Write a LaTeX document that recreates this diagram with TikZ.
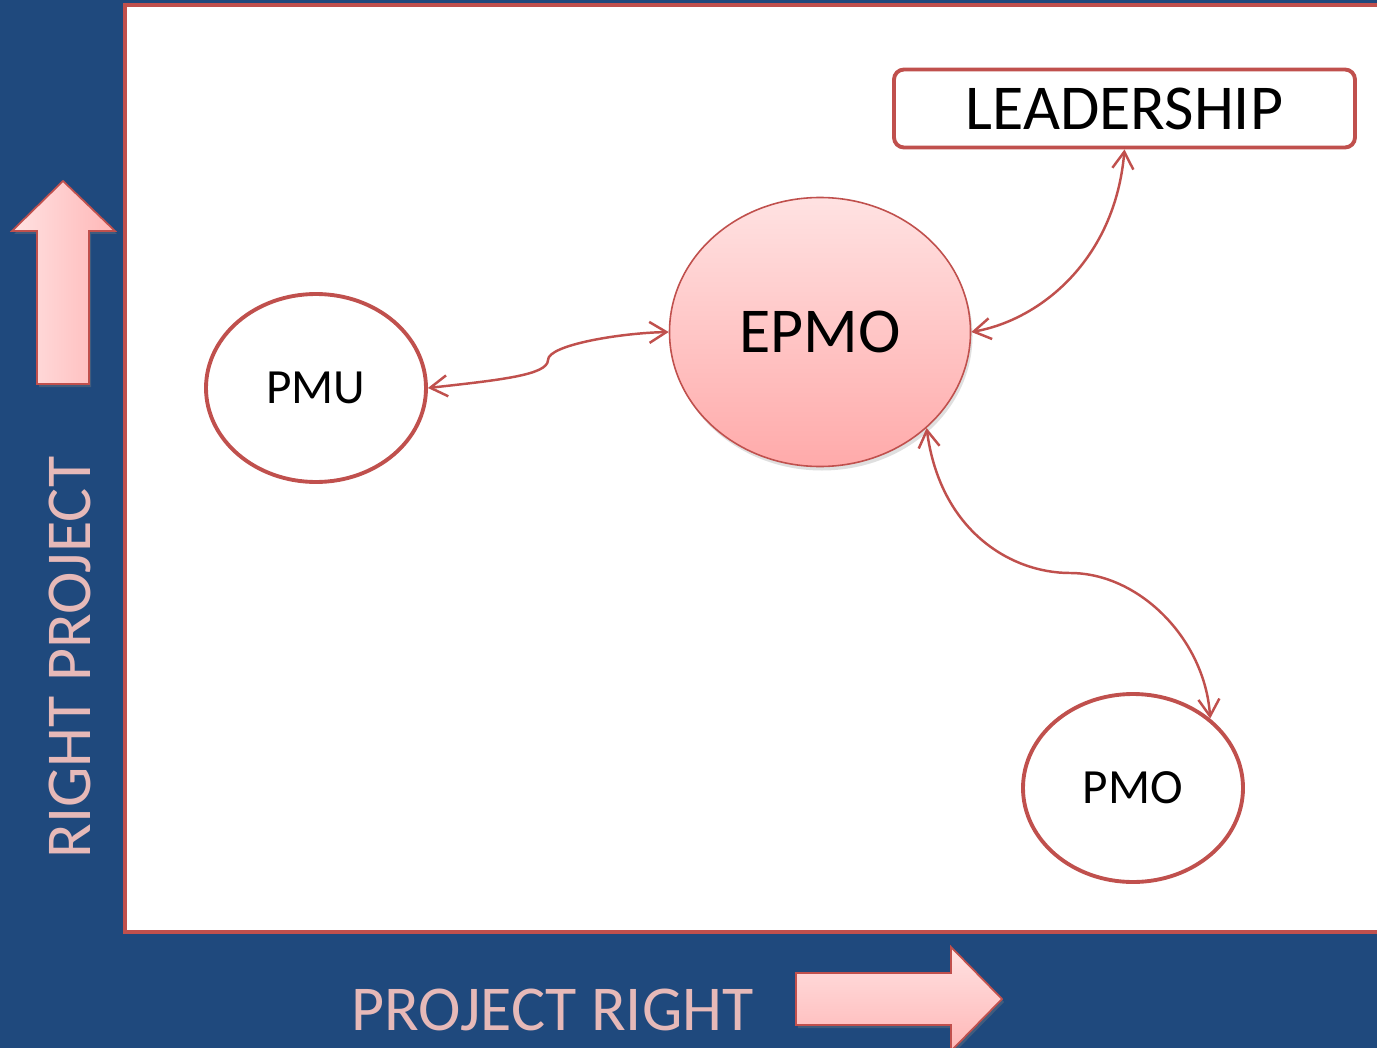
\documentclass[tikz,border=0pt]{standalone}
\usepackage{fontspec}
\setmainfont{Carlito}
\usepackage{tikz}
\usetikzlibrary{positioning, shapes.geometric, arrows.meta, shadows}

\definecolor{deepblue}{RGB}{31,73,125}
\definecolor{brickred}{RGB}{192,80,77}
\definecolor{rosetext}{RGB}{230,185,184}
\definecolor{palepink}{RGB}{255,226,226}
\definecolor{midpink}{RGB}{255,170,170}

\begin{document}
\begin{tikzpicture}[
    bigtext/.style={font=\fontsize{18.2pt}{21pt}\selectfont},
    axislabel/.style={bigtext, text=rosetext, inner sep=0pt},
    fatarrow/.style={draw=brickred, line width=0.5pt, line join=miter,
      drop shadow={opacity=0.35, shadow xshift=0.02cm, shadow yshift=-0.03cm}},
    office/.style={ellipse, draw=brickred, line width=1.1pt, fill=white,
      inner sep=0pt, minimum width=2.20cm, minimum height=1.88cm,
      font=\fontsize{14pt}{17pt}\selectfont},
    hub/.style={ellipse, draw=brickred, line width=0.45pt, inner sep=0pt,
      top color=palepink, bottom color=midpink,
      minimum width=3.01cm, minimum height=2.69cm, bigtext,
      drop shadow={opacity=0.25, shadow xshift=0.02cm, shadow yshift=-0.04cm}},
    topbox/.style={rectangle, rounded corners=0.1cm, draw=brickred,
      line width=1.1pt, fill=white, minimum width=4.61cm,
      minimum height=0.78cm, bigtext},
    link/.style={draw=brickred, line width=0.7pt,
      {Straight Barb[length=1.7mm, width=2.1mm]}-{Straight Barb[length=1.7mm, width=2.1mm]}}
  ]
    \useasboundingbox (0,0) rectangle (13.77,-10.48);
    \clip (0,0) rectangle (13.77,-10.48);

    % Background and white panel
    \fill[deepblue] (0,0) rectangle (13.77,-10.48);
    \draw[brickred, line width=1.2pt, fill=white] (1.25,-0.05) rectangle (14.2,-9.32);

    % Axis arrows
    \path[fatarrow, left color=palepink, right color=midpink!85]
      (0.37,-3.84) -- (0.37,-2.31) -- (0.12,-2.31) -- (0.63,-1.81)
      -- (1.15,-2.31) -- (0.89,-2.31) -- (0.89,-3.84) -- cycle;
    \path[fatarrow, top color=palepink, bottom color=midpink!85]
      (7.96,-9.73) -- (9.51,-9.73) -- (9.51,-9.47) -- (10.02,-9.99)
      -- (9.51,-10.51) -- (9.51,-10.25) -- (7.96,-10.25) -- cycle;

    % Axis labels
    \node[axislabel, rotate=90, anchor=base] (yname) at (0.90,-6.575) {RIGHT PROJECT};
    \node[axislabel, anchor=base] (xname) at (5.525,-10.30) {PROJECT RIGHT};

    % Offices
    \node[hub] (epmo) at (8.20,-3.32) {EPMO};
    \node[office] (pmu) at (3.16,-3.88) {PMU};
    \node[office] (pmo) at (11.33,-7.88) {PMO};
    \node[topbox] (lead) at (11.245,-1.085) {LEADERSHIP};

    % Links
    \coordinate (kink) at (5.48,-3.60);
    \coordinate (dip) at (10.70,-5.73);
    \draw[link] (pmu.east) .. controls (5.00,-3.80) and (5.48,-3.75) .. (kink)
      .. controls (5.48,-3.45) and (6.20,-3.33) .. (epmo.west);
    \draw[link] (lead.south) .. controls (11.15,-2.60) and (10.40,-3.20) .. (epmo.east);
    \draw[link] (epmo.-42) .. controls (9.40,-5.30) and (10.10,-5.73) .. (dip)
      .. controls (11.40,-5.73) and (12.05,-6.40) .. (pmo.42);
  \end{tikzpicture}
\end{document}
